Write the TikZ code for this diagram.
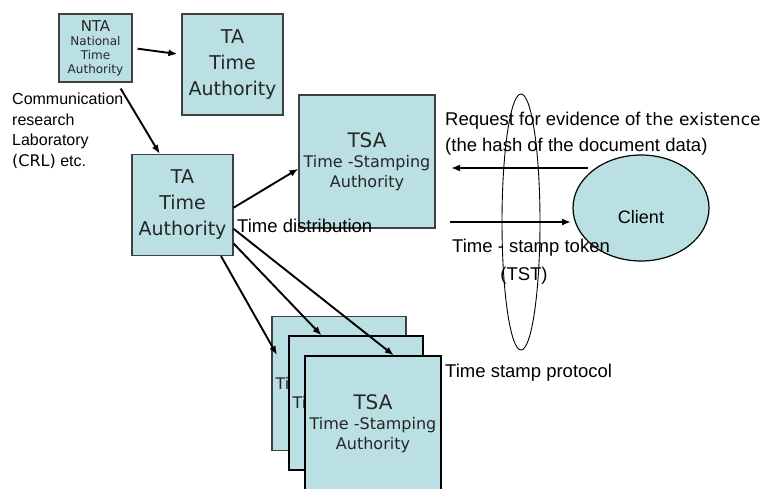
\documentclass[tikz,border=0pt]{standalone}
\usepackage{fontspec}
\setmainfont{Liberation Sans}
\newfontfamily\boxfont{DejaVu Sans}
\usetikzlibrary{shapes.geometric,arrows.meta}
\definecolor{tsafill}{RGB}{187,224,227}
\tikzset{
	authbox/.style={draw=black!75,fill=tsafill,line width=1.2pt,inner sep=0pt,align=center,text=black!85},
	bigtext/.style={font=\boxfont\fontsize{19}{26}\selectfont},
	tsatext/.style={font=\boxfont\fontsize{16}{20}\selectfont},
	arr/.style={-{Latex[length=9pt,width=7pt]},line width=1.9pt},
	lbl/.style={inner sep=0pt,anchor=base west,font=\fontsize{18.5}{22}\selectfont},
}
\newcommand{\tsalines}{{\fontsize{20}{22}\selectfont TSA}\\Time -Stamping\\Authority}

\begin{document}
\begin{tikzpicture}[x=1pt,y=-1pt]
			\useasboundingbox (0,0) rectangle (765,488);
			\clip (0,0) rectangle (765,488);
			
			\node[authbox,minimum width=73pt,minimum height=68pt,font=\boxfont\fontsize{12}{14}\selectfont] (nta)at(95.5,48) {{\fontsize{15}{17}\selectfont NTA}\\National\\Time\\Authority};
			\node[authbox,bigtext,minimum size=101pt] (ta1)at(232.5,64.5) {TA\\Time\\Authority};
			\node[authbox,bigtext,minimum size=101pt] (ta2)at(182.5,205) {TA\\Time\\Authority};
			\node[authbox,tsatext,minimum width=136pt,minimum height=133pt] (tsa)at(367,161.5) {\tsalines};
			\node[authbox,tsatext,minimum size=134pt] (s1)at(339,383.5) {\tsalines};
			\node[authbox,tsatext,draw=black,minimum size=134pt] (s2)at(356,403) {\tsalines};
			\node[authbox,tsatext,draw=black,minimum width=136pt,minimum height=135pt] (s3)at(373,423.5) {\tsalines};
			\node[draw,ellipse,fill=tsafill,line width=1.2pt,inner sep=0pt,minimum width=136pt,minimum height=106pt,text height=36pt,text depth=5pt,font=\fontsize{18}{20}\selectfont] (client)at(641,208) {Client};
			\node[draw,ellipse,line width=0.9pt,inner sep=0pt,minimum width=38pt,minimum height=256pt] (proto)at(521,222) {};
			
			\coordinate (s1in)at(277,355);
			\coordinate (reqA)at(588,168);
			\coordinate (reqB)at(451,168);
			\coordinate (tstA)at(450,222);
			\coordinate (tstB)at(571,222);
			
			\draw[arr,shorten <=5pt,shorten >=4pt] (nta.east) -- (ta1.169);
			\draw[arr,shorten <=7pt] (nta.-58) -- (ta2.114);
			\draw[arr] (ta2.-3) -- (tsa.-174);
			\draw[arr] (ta2.-53) -- (s1in);
			\draw[arr] (ta2.-37) -- (s2.117);
			\draw[arr] (ta2.-25) -- (s3.73);
			\draw[arr] (reqA) -- (reqB);
			\draw[arr] (tstA) -- (tstB);
			
			\node[inner sep=0pt,anchor=north west,align=left,font=\fontsize{16}{20.5}\selectfont] (crl)at(12,93) {Communication\\research\\Laboratory\\{\boxfont(CRL)} etc.};
			\node[lbl] (tdist)at(237,232) {Time distribution};
			\node[lbl] (req)at(445,125) {Request for evidence of {\boxfont\fontsize{17}{20}\selectfont the existence}};
			\node[lbl] (hash)at(445,151) {(the hash of the document data)};
			\node[lbl] (tst)at(452,252) {Time - stamp token};
			\node[lbl,anchor=base] (tstabbr)at(524,280) {(TST)};
			\node[lbl] (tsp)at(445,377) {Time stamp protocol};
		\end{tikzpicture}
\end{document}
